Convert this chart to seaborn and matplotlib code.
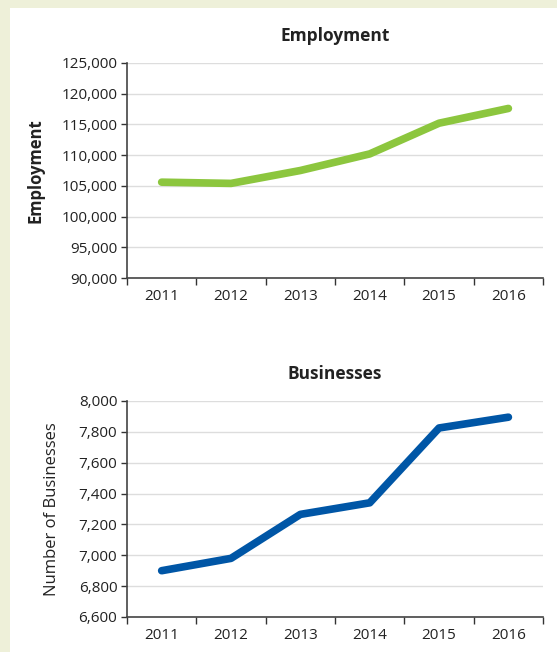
import numpy as np
import pandas as pd
import matplotlib
matplotlib.use("Agg")
import matplotlib.pyplot as plt
import seaborn as sns
from matplotlib.ticker import FuncFormatter, FixedLocator

years = ["2011", "2012", "2013", "2014", "2015", "2016"]
employment = [105600, 105400, 107500, 110200, 115200, 117600]
businesses = [6900, 6980, 7265, 7340, 7825, 7895]

sns.set_theme(style="white")
plt.rcParams['font.family'] = ['Open Sans', 'DejaVu Sans']

fig = plt.figure(figsize=(5.57, 6.52), dpi=100)
fig.patch.set_facecolor("#eef0d9")
# white panel
fig.add_artist(plt.Rectangle((10 / 557, 0), 1, 1 - 8 / 652, transform=fig.transFigure,
                             facecolor="white", edgecolor="none", zorder=0))

ax1 = fig.add_axes([0.228, 0.5736, 0.747, 0.3298])
ax2 = fig.add_axes([0.228, 0.0537, 0.747, 0.3313])


def style_axis(ax, ylo, yhi, step, title, ylabel, bold_label, lpad):
    ax.set_facecolor("none")
    ax.set_xlim(-0.5, 5.5)
    ax.set_ylim(ylo, yhi)
    ax.set_yticks(np.arange(ylo, yhi + step / 2, step))
    ax.yaxis.set_major_formatter(FuncFormatter(lambda v, p: f"{int(v):,}"))
    ax.xaxis.set_major_locator(FixedLocator(np.arange(-0.5, 6, 1)))
    ax.xaxis.set_minor_locator(FixedLocator(np.arange(6)))
    ax.set_xticklabels([], minor=False)
    ax.set_xticklabels(years, minor=True)
    ax.tick_params(axis="x", which="major", length=5, width=1, color="#333333", direction="out", bottom=True)
    ax.tick_params(axis="x", which="minor", length=0, pad=8, labelsize=11, labelcolor="#222222")
    ax.tick_params(axis="y", length=4, width=1, color="#333333", direction="out", left=True,
                   labelsize=11, labelcolor="#222222", pad=3)
    ax.grid(axis="y", color="#dddddd", linewidth=1)
    ax.set_axisbelow(True)
    for s in ["top", "right"]:
        ax.spines[s].set_visible(False)
    for s in ["left", "bottom"]:
        ax.spines[s].set_color("#444444")
        ax.spines[s].set_linewidth(1.2)
    ax.set_xlabel("")
    ax.set_title(title, fontsize=12.5, fontweight="bold", color="#222222", pad=16)
    ax.set_ylabel(ylabel, fontsize=12, fontweight="bold" if bold_label else "medium",
                  color="#222222", labelpad=lpad)


df1 = pd.DataFrame({"x": np.arange(len(years)), "Employment": employment})
df2 = pd.DataFrame({"x": np.arange(len(years)), "Businesses": businesses})

sns.lineplot(data=df1, x="x", y="Employment", ax=ax1, color="#8cc63e", linewidth=5.5,
             solid_capstyle="round", solid_joinstyle="round")
sns.lineplot(data=df2, x="x", y="Businesses", ax=ax2, color="#0056a6", linewidth=5.5,
             solid_capstyle="round", solid_joinstyle="round")

style_axis(ax1, 90000, 125000, 5000, "Employment", "Employment", True, 12)
style_axis(ax2, 6600, 8000, 200, "Businesses", "Number of Businesses", False, 13)

fig.savefig("out.png", dpi=100, facecolor=fig.get_facecolor())
